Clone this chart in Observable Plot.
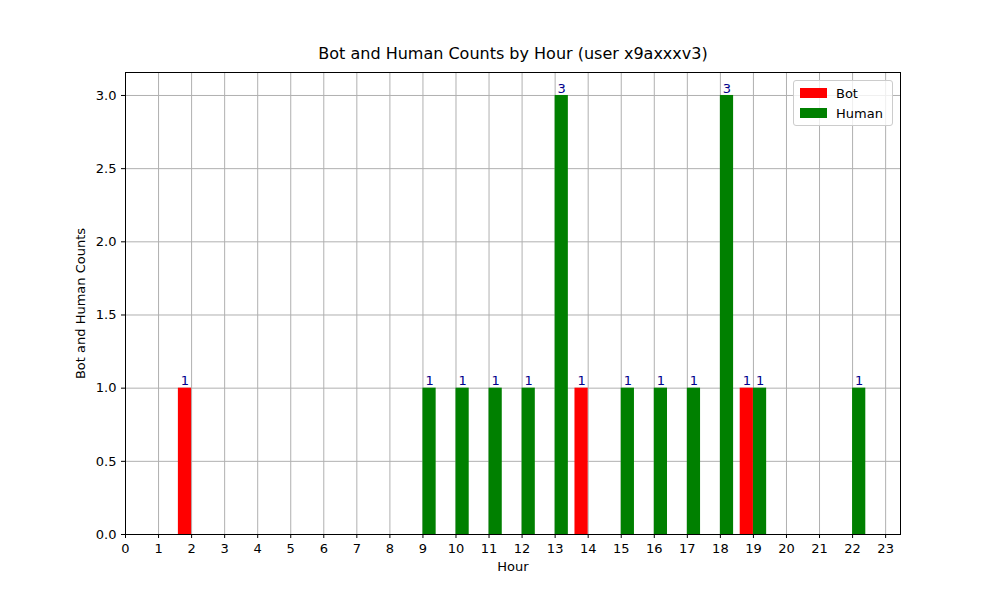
<!DOCTYPE html>
<html lang="en">
<head>
<meta charset="utf-8">
<title>Bot and Human Counts by Hour</title>
<script src="https://cdn.jsdelivr.net/npm/d3@7"></script>
<script src="https://cdn.jsdelivr.net/npm/@observablehq/plot@0.6"></script>
<style>
  body { margin: 0; background: #fff; font-family: "DejaVu Sans", sans-serif; }
  #wrap { position: relative; width: 1000px; height: 600px; }
  #legend {
    position: absolute; left: 793px; top: 80px; width: 98px; height: 44px;
    border: 1px solid #ccc; border-radius: 3px; background: rgba(255,255,255,0.8);
    font-size: 13px; color: #000;
  }
  .row { display: flex; align-items: center; height: 20px; margin-left: 6px; }
  .sw { width: 27px; height: 10px; margin-right: 9px; }
</style>
</head>
<body>
<div id="wrap">
  <div id="graphic"></div>
  <div id="legend">
    <div class="row" style="margin-top:2px"><div class="sw" style="background:red"></div>Bot</div>
    <div class="row"><div class="sw" style="background:green"></div>Human</div>
  </div>
</div>
<script>
  const botHours = [2, 14, 19];
  const botCounts = [1, 1, 1];
  const humanHours = [9, 10, 11, 12, 13, 15, 16, 17, 18, 19, 22];
  const humanCounts = [1, 1, 1, 1, 3, 1, 1, 1, 3, 1, 1];
  const hourTicks = d3.range(0, 24);
  const yTicks = [0, 0.5, 1.0, 1.5, 2.0, 2.5, 3.0];

  const w = 0.4;
  const bots = botHours.map((h, i) => ({x1: h - w, x2: h, y: botCounts[i]}));
  const humans = humanHours.map((h, i) => ({x1: h, x2: h + w, y: humanCounts[i]}));

  const plot = Plot.plot({
    width: 1000,
    height: 600,
    marginLeft: 125,
    marginRight: 100,
    marginTop: 72,
    marginBottom: 66,
    style: {fontFamily: "'DejaVu Sans', sans-serif", fontSize: "12px", color: "#000"},
    x: {domain: [0, 23.45], ticks: hourTicks, tickFormat: d => d, label: "Hour", labelAnchor: "center", labelOffset: 36},
    y: {domain: [0, 3.157], ticks: yTicks, tickFormat: d3.format(".1f"), label: "Bot and Human Counts", labelAnchor: "center", labelOffset: 50},
    marks: [
      Plot.gridX(hourTicks, {stroke: "#b0b0b0", strokeOpacity: 1}),
      Plot.gridY(yTicks, {stroke: "#b0b0b0", strokeOpacity: 1}),
      Plot.rectY(bots, {x1: "x1", x2: "x2", y: "y", fill: "red"}),
      Plot.rectY(humans, {x1: "x1", x2: "x2", y: "y", fill: "green"}),
      Plot.text(bots, {x: d => (d.x1 + d.x2) / 2, y: "y", text: d => d.y, dy: -7, fill: "darkblue", fontSize: 13}),
      Plot.text(humans, {x: d => (d.x1 + d.x2) / 2, y: "y", text: d => d.y, dy: -7, fill: "darkblue", fontSize: 13}),
      Plot.axisX({ticks: hourTicks, tickFormat: d => d, tickSize: 4, fontSize: 13, label: "Hour", labelAnchor: "center", labelArrow: "none", labelOffset: 36}),
      Plot.axisY({ticks: yTicks, tickFormat: d3.format(".1f"), tickSize: 4, fontSize: 13, label: "Bot and Human Counts", labelAnchor: "center", labelArrow: "none", labelOffset: 50}),
      Plot.frame({stroke: "#000"}),
      Plot.text(["Bot and Human Counts by Hour (user x9axxxv3)"], {frameAnchor: "top", dy: -14, fontSize: 16, lineAnchor: "bottom"})
    ]
  });
  document.getElementById("graphic").appendChild(plot);
</script>
</body>
</html>
